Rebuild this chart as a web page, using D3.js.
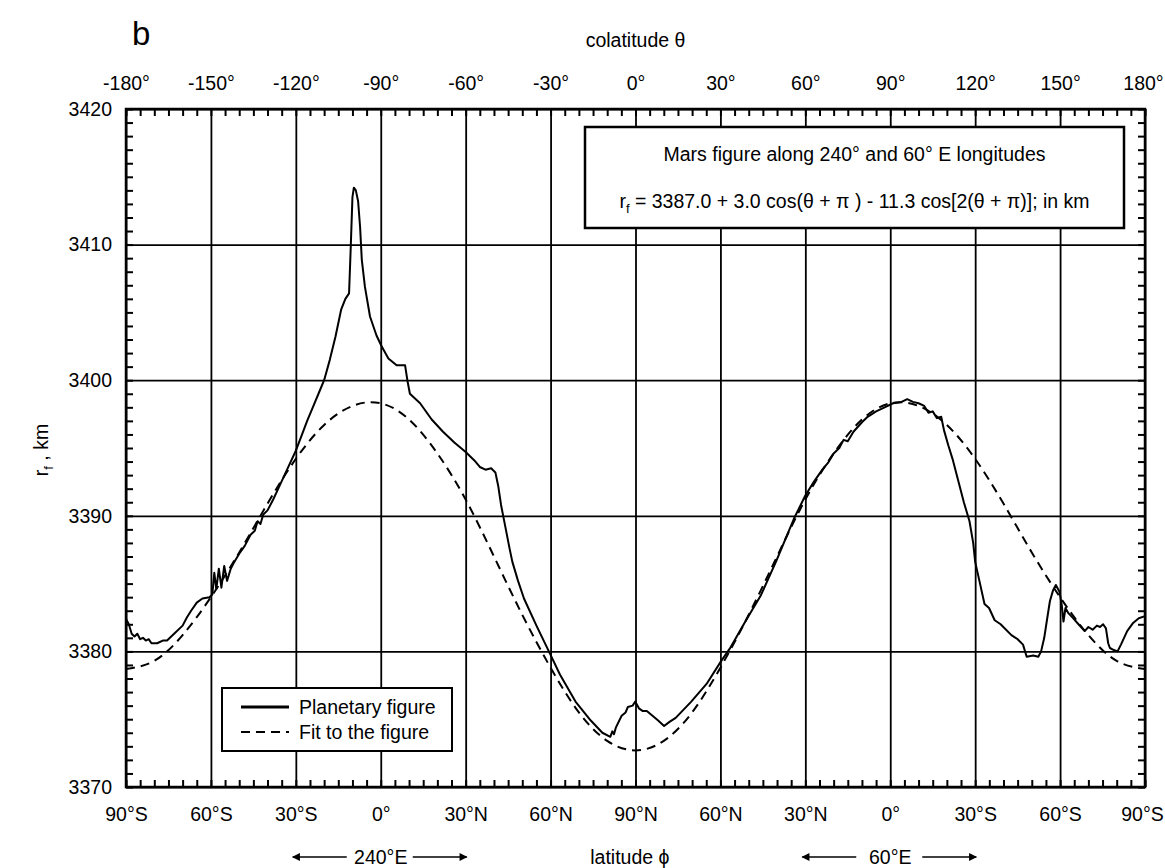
<!DOCTYPE html>
<html>
<head>
<meta charset="utf-8">
<script src="https://cdn.jsdelivr.net/npm/d3@7"></script>
<style>
body { margin: 0; background: #fff; }
text { font-family: "Liberation Sans", Arial, Helvetica, sans-serif; fill: #000; }
</style>
</head>
<body>
<script>
(function () {

// top axis: colatitude theta
var colatTicks = [-180, -150, -120, -90, -60, -30, 0, 30, 60, 90, 120, 150, 180];
// bottom axis: latitude phi along the two meridians
var latLabels = ["90°S", "60°S", "30°S", "0°", "30°N", "60°N", "90°N", "60°N", "30°N", "0°", "30°S", "60°S", "90°S"];
var radiusTicks = [3370, 3380, 3390, 3400, 3410, 3420];
var meridianCenters = [-90, 90];
var meridianLabels = ["240°E", "60°E"];

// planetary figure: [colatitude, r_f]
var planetary = [
  [-180, 3382.4], [-179, 3382.0], [-178, 3381.3], [-177, 3381.1], [-176, 3381.3], [-175, 3380.9],
  [-174, 3381.0], [-173, 3380.8], [-172, 3380.9], [-171, 3380.6], [-169, 3380.6], [-167, 3380.8],
  [-165.5, 3380.8], [-163, 3381.3], [-160, 3381.9], [-158.5, 3382.5], [-157, 3383.0], [-155, 3383.6],
  [-153, 3383.9], [-150.5, 3384.0], [-149.5, 3384.2], [-148.8, 3385.8], [-148.1, 3384.6], [-147.2, 3386.1],
  [-146.3, 3384.7], [-145.3, 3386.3], [-144.3, 3385.2], [-143, 3386.1], [-142, 3386.5],
  [-140, 3387.2], [-138, 3387.8], [-136, 3388.6], [-134.5, 3388.9], [-133.5, 3389.6], [-132.5, 3389.4],
  [-131.5, 3390.1], [-130, 3390.4], [-128, 3391.2], [-126, 3392.1], [-124, 3393.0], [-122, 3393.9],
  [-120, 3394.8], [-118, 3395.9], [-116, 3397.0], [-114, 3398.0], [-112, 3399.0], [-110, 3400.0],
  [-108, 3401.5], [-106, 3403.2], [-104, 3405.2], [-102.5, 3406.0], [-101.2, 3406.4], [-100.6, 3409.8],
  [-100.0, 3413.5], [-99.5, 3414.2], [-98.8, 3414.0], [-98.0, 3413.2], [-97.3, 3411.3], [-96.7, 3408.9],
  [-95.6, 3406.9], [-93.8, 3404.7], [-91.5, 3403.3], [-89.7, 3402.5], [-87.3, 3401.6], [-84.4, 3401.1],
  [-81.4, 3401.1], [-80.6, 3400.0], [-79.7, 3399.0], [-76.1, 3398.3], [-72.0, 3397.1], [-68, 3396.2],
  [-64, 3395.4], [-60, 3394.7], [-57, 3394.1], [-55, 3393.6], [-53, 3393.4], [-51, 3393.5],
  [-49.5, 3393.2], [-48.5, 3392.2], [-47.5, 3390.8], [-46, 3389.2], [-44.5, 3387.6], [-43.5, 3386.6],
  [-41.5, 3385.2], [-39.4, 3383.9], [-35, 3381.9], [-30.6, 3380.0], [-26.7, 3378.3], [-21.2, 3376.3],
  [-15.8, 3374.9], [-11.7, 3374.0], [-8.9, 3373.7], [-8.2, 3374.1], [-7.6, 3373.9], [-6.9, 3374.4],
  [-4.9, 3375.25], [-3.5, 3375.5], [-2.7, 3375.9], [-1.0, 3376.0], [-0.1, 3376.3], [1.2, 3375.8],
  [2.6, 3375.6], [4.0, 3375.6], [6.0, 3375.25], [8.0, 3374.9], [10.1, 3374.5], [12.0, 3374.8],
  [14.2, 3375.1], [19.7, 3376.3], [25.1, 3377.6], [30.3, 3379.3], [33.3, 3380.2], [38.8, 3382.2],
  [44.2, 3384.1], [49.6, 3386.6], [53, 3388.3], [56, 3389.8], [60, 3391.5], [63, 3392.5],
  [66, 3393.4], [68, 3393.9], [70, 3394.6], [72, 3395.0], [73.5, 3395.6], [75, 3395.5],
  [77, 3396.2], [80, 3396.9], [82, 3397.3], [85, 3397.7], [88, 3398.0], [91, 3398.3],
  [94, 3398.4], [96, 3398.6], [98, 3398.4], [100, 3398.3], [102, 3398.1], [103.5, 3397.6],
  [105, 3397.7], [106.5, 3397.2], [108, 3397.3], [109, 3396.3], [110.5, 3395.2], [112, 3394.2],
  [114, 3392.6], [116, 3391.0], [118, 3389.6], [119.3, 3388.0], [120, 3386.6], [121.5, 3385.2],
  [123.3, 3383.5], [124.9, 3383.2], [126.9, 3382.3], [129, 3382.0], [132.8, 3381.2], [135, 3380.9],
  [136.9, 3380.5], [138.2, 3379.6], [140.5, 3379.7], [142.3, 3379.6], [143.3, 3380.0], [144.4, 3381.0],
  [145.5, 3382.5], [146.4, 3383.7], [147.5, 3384.5], [148.5, 3384.9], [149.8, 3384.4], [150.6, 3383.4],
  [151.2, 3382.2], [151.9, 3383.2], [153, 3382.8], [154.6, 3382.45], [156.5, 3382.0], [158.7, 3381.5],
  [160, 3381.8], [161.5, 3381.6], [163, 3381.9], [164.1, 3381.8], [165.2, 3382.0], [166.2, 3381.7],
  [167, 3380.6], [167.6, 3380.25], [169, 3380.1], [170.3, 3380.0], [171.5, 3380.5], [173.7, 3381.5],
  [175.8, 3382.1], [177.8, 3382.45], [180, 3382.6]
];

// fit to the figure, read every 10 degrees
var fitTheta = [-180, -170, -160, -150, -140, -130, -120, -110, -100, -90, -80, -70, -60, -50, -40, -30, -20, -10,
  0, 10, 20, 30, 40, 50, 60, 70, 80, 90, 100, 110, 120, 130, 140, 150, 160, 170, 180];
var fitR = [3378.7, 3379.3, 3381.2, 3384.0, 3387.3, 3390.9, 3394.2, 3396.7, 3398.1, 3398.3, 3397.1, 3394.6,
  3391.2, 3387.0, 3382.7, 3378.8, 3375.5, 3373.4, 3372.7, 3373.4, 3375.5, 3378.8, 3382.7, 3387.0,
  3391.2, 3394.6, 3397.1, 3398.3, 3398.1, 3396.7, 3394.2, 3390.9, 3387.3, 3384.0, 3381.2, 3379.3, 3378.7];

var width = 1165,
height = 868,
left = 126, right = 1145, top = 109, bottom = 787;
var fontSize = "19.5px";

var svg = d3.select("body").append("svg")
.attr("width", width)
.attr("height", height)

var x = d3.scaleLinear().domain([-180, 180]).range([left, right])
var y = d3.scaleLinear().domain([3370, 3420]).range([bottom, top])

var minorX = d3.range(-180, 181, 5)
var minorY = d3.range(3370, 3421, 1)

// grid lines
svg.append("g")
.attr("transform", "translate(0 " + bottom + ")")
.call(d3.axisBottom(x).tickValues(colatTicks).tickSize(-(bottom - top)).tickFormat(""))
svg.append("g")
.attr("transform", "translate(" + left + " 0)")
.call(d3.axisLeft(y).tickValues(radiusTicks).tickSize(-(right - left)).tickFormat(""))

// inward minor ticks on all four sides
svg.append("g").attr("class", "minor")
.attr("transform", "translate(0 " + bottom + ")")
.call(d3.axisBottom(x).tickValues(minorX).tickSize(-7).tickFormat(""))
svg.append("g").attr("class", "minor")
.attr("transform", "translate(0 " + top + ")")
.call(d3.axisTop(x).tickValues(minorX).tickSize(-7).tickFormat(""))
svg.append("g").attr("class", "minor")
.attr("transform", "translate(" + left + " 0)")
.call(d3.axisLeft(y).tickValues(minorY).tickSize(-7).tickFormat(""))
svg.append("g").attr("class", "minor")
.attr("transform", "translate(" + right + " 0)")
.call(d3.axisRight(y).tickValues(minorY).tickSize(-7).tickFormat(""))

svg.selectAll(".domain").remove()
svg.selectAll(".tick line").attr("stroke", "#000").attr("stroke-width", 1.8)
svg.selectAll(".minor .tick line").attr("stroke-width", 2)

// tick labels
var topLabels = svg.append("g")
.attr("transform", "translate(0 " + top + ")")
.call(d3.axisTop(x).tickValues(colatTicks).tickSize(0).tickPadding(19).tickFormat(function(d) { return d + "°" }))
var bottomLabels = svg.append("g")
.attr("transform", "translate(0 " + bottom + ")")
.call(d3.axisBottom(x).tickValues(colatTicks).tickSize(0).tickPadding(20).tickFormat(function(d, i) { return latLabels[i] }))
svg.append("g")
.attr("transform", "translate(" + left + " 0)")
.call(d3.axisLeft(y).tickValues(radiusTicks).tickSize(0).tickPadding(14).tickFormat(d3.format("d")))

svg.selectAll(".domain").remove()
svg.selectAll(".tick text").style("font-size", fontSize).attr("fill", "#000")
.style("font-family", '"Liberation Sans", Arial, sans-serif')

// the last labels sit right on the page edge, pull them in a little
topLabels.selectAll(".tick text").filter(function(d) { return d === 180 }).attr("dx", -2)
bottomLabels.selectAll(".tick text").filter(function(d) { return d === 180 }).attr("dx", -3)

// frame
svg.append("rect")
.attr("x", left).attr("y", top)
.attr("width", right - left).attr("height", bottom - top)
.attr("fill", "none").attr("stroke", "#000").attr("stroke-width", 2.5)

// curves
var fitData = fitTheta.map(function(t, i) { return [t, fitR[i]] })

var line = d3.line()
.x(function(d) { return x(d[0]) })
.y(function(d) { return y(d[1]) })

svg.append("path")
.datum(fitData)
.attr("d", line.curve(d3.curveNatural))
.attr("fill", "none").attr("stroke", "#000").attr("stroke-width", 2)
.attr("stroke-dasharray", "9,6")

svg.append("path")
.datum(planetary)
.attr("d", line.curve(d3.curveLinear))
.attr("fill", "none").attr("stroke", "#000").attr("stroke-width", 2)
.attr("stroke-linejoin", "round")

// title box
var boxLeft = 585, boxRight = 1124, boxMid = (boxLeft + boxRight) / 2
var box = svg.append("g")
box.append("rect")
.attr("x", boxLeft).attr("y", 127).attr("width", boxRight - boxLeft).attr("height", 101)
.attr("fill", "#fff").attr("stroke", "#000").attr("stroke-width", 2.5)
box.append("text")
.attr("x", boxMid).attr("y", 161).attr("text-anchor", "middle")
.style("font-size", fontSize)
.text("Mars figure along 240° and 60° E longitudes")
var eq = box.append("text")
.attr("x", boxMid).attr("y", 208).attr("text-anchor", "middle")
.style("font-size", fontSize)
eq.append("tspan").text("r")
eq.append("tspan").attr("dy", 5).style("font-size", "13px").text("f")
eq.append("tspan").attr("dy", -5).text(" = 3387.0 + 3.0 cos(θ + π ) - 11.3 cos[2(θ + π)]; in km")

// legend
var legend = svg.append("g")
legend.append("rect")
.attr("x", 222).attr("y", 688).attr("width", 230).attr("height", 63)
.attr("fill", "#fff").attr("stroke", "#000").attr("stroke-width", 2)
legend.append("line")
.attr("x1", 241).attr("x2", 289).attr("y1", 707).attr("y2", 707)
.attr("stroke", "#000").attr("stroke-width", 3)
legend.append("line")
.attr("x1", 241).attr("x2", 289).attr("y1", 732).attr("y2", 732)
.attr("stroke", "#000").attr("stroke-width", 2).attr("stroke-dasharray", "9,6")
legend.append("text").attr("x", 299).attr("y", 714).style("font-size", fontSize).text("Planetary figure")
legend.append("text").attr("x", 299).attr("y", 739).style("font-size", fontSize).text("Fit to the figure")

// panel letter and axis titles
svg.append("text").attr("x", 132).attr("y", 45).style("font-size", "33px").text("b")
svg.append("text").attr("x", x(0)).attr("y", 47).attr("text-anchor", "middle")
.style("font-size", fontSize).text("colatitude θ")
svg.append("text").attr("x", x(-2)).attr("y", 864).attr("text-anchor", "middle")
.style("font-size", fontSize).text("latitude ϕ")

var yTitle = svg.append("text")
.attr("transform", "translate(48 450) rotate(-90)")
.attr("text-anchor", "middle")
.style("font-size", fontSize)
yTitle.append("tspan").text("r")
yTitle.append("tspan").attr("dy", 5).style("font-size", "13px").text("f")
yTitle.append("tspan").attr("dy", -5).text(" , km")

// meridian arrows
var defs = svg.append("defs")
defs.append("marker")
.attr("id", "arrow")
.attr("viewBox", "0 0 10 10")
.attr("refX", 9).attr("refY", 5)
.attr("markerWidth", 11).attr("markerHeight", 8)
.attr("markerUnits", "userSpaceOnUse")
.attr("orient", "auto")
.append("path").attr("d", "M0 0 L10 5 L0 10 Z").attr("fill", "#000")

var arrows = svg.selectAll(".meridian")
.data(meridianCenters)
.enter().append("g")
.attr("transform", function(d) { return "translate(" + x(d) + " 857)" })

arrows.append("text")
.attr("text-anchor", "middle").attr("y", 7)
.style("font-size", fontSize)
.text(function(d, i) { return meridianLabels[i] })
arrows.append("line")
.attr("x1", -34).attr("x2", -88).attr("y1", 0).attr("y2", 0)
.attr("stroke", "#000").attr("stroke-width", 1.5).attr("marker-end", "url(#arrow)")
arrows.append("line")
.attr("x1", 32).attr("x2", 86).attr("y1", 0).attr("y2", 0)
.attr("stroke", "#000").attr("stroke-width", 1.5).attr("marker-end", "url(#arrow)")

}())
</script>
</body>
</html>
